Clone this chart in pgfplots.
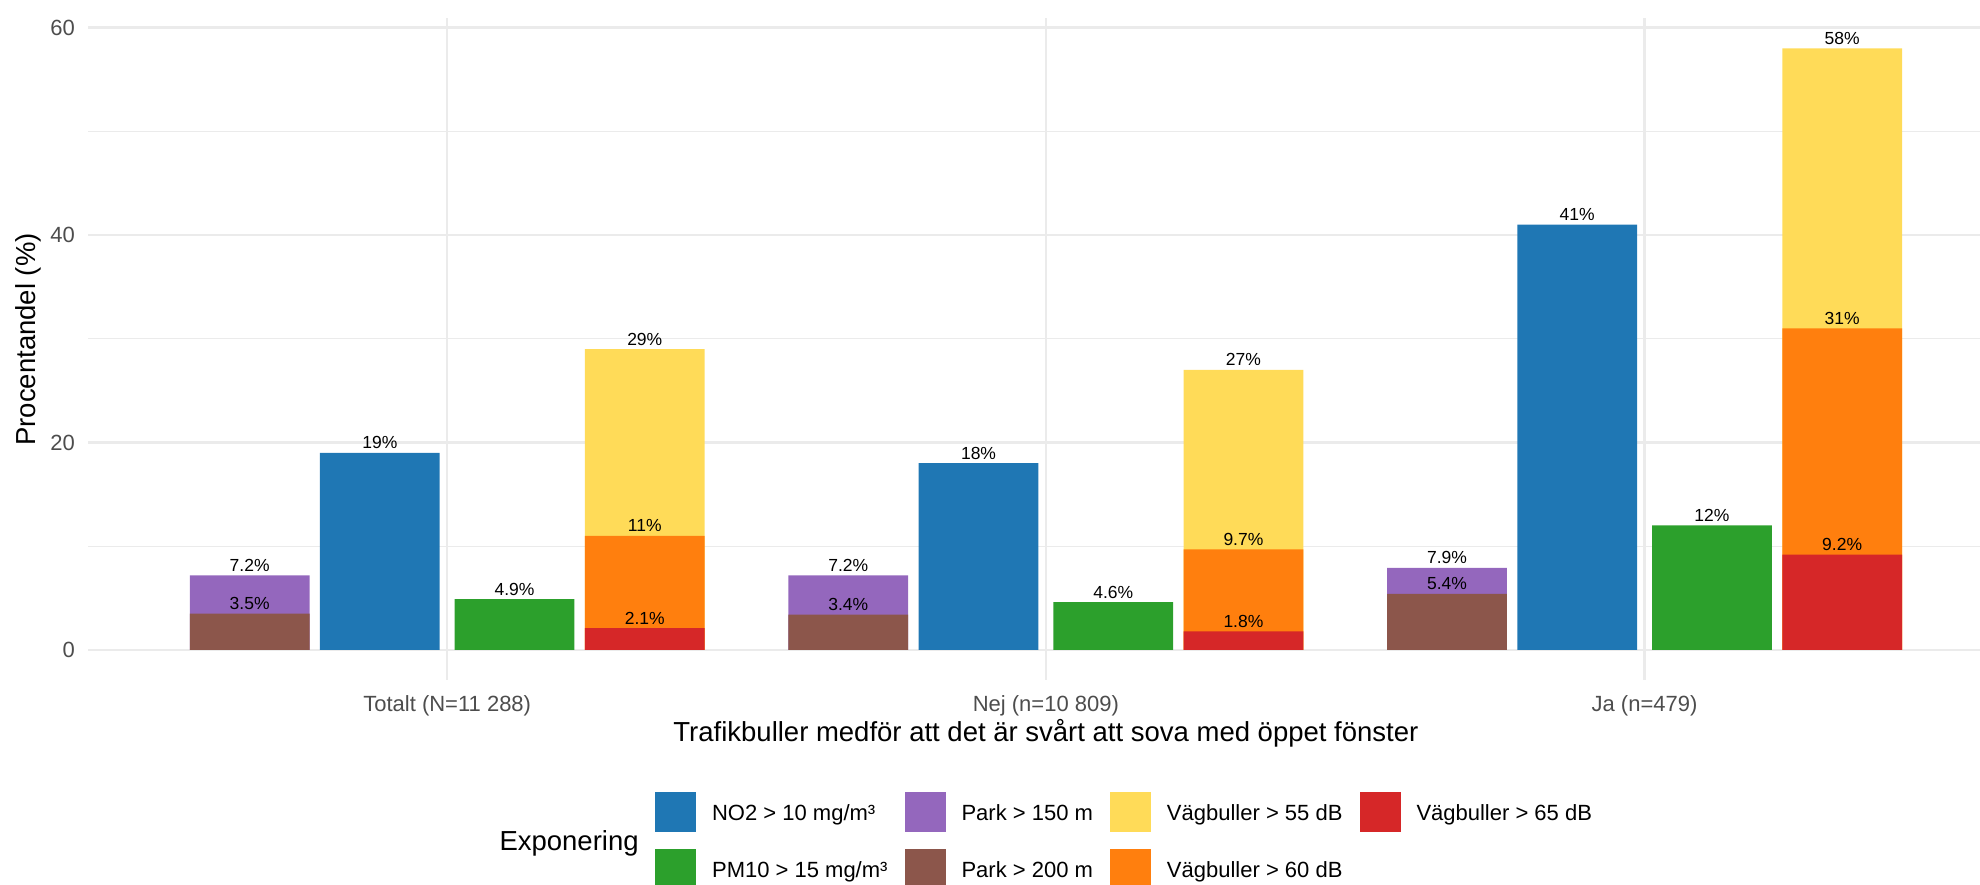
\documentclass[border=0pt]{standalone}
\usepackage{fontspec}
\setmainfont{Liberation Sans}
\usepackage{pgfplots}
\pgfplotsset{compat=1.18}
\definecolor{cNO}{HTML}{1F77B4}
\definecolor{cPM}{HTML}{2CA02C}
\definecolor{cPa}{HTML}{9467BD}
\definecolor{cPb}{HTML}{8C564B}
\definecolor{cVa}{HTML}{FFDB58}
\definecolor{cVb}{HTML}{FF7F0E}
\definecolor{cVc}{HTML}{D62728}
\definecolor{gridc}{HTML}{EBEBEB}
\definecolor{tickc}{HTML}{4D4D4D}
\begin{document}
\begin{tikzpicture}
\useasboundingbox (0pt,0pt) rectangle (792pt,-353.6pt);
\begin{axis}[
  at={(35.2pt,-272pt)}, anchor=south west,
  scale only axis, width=766.3pt, height=264.7pt,
  xmin=0.4, xmax=3.6, ymin=-2.9, ymax=60.9,
  xtick={1,2,3},
  xticklabels={Totalt (N=11 288), Nej (n=10 809), Ja (n=479)},
  ytick={0,20,40,60}, minor ytick={10,30,50},
  xmajorgrids, ymajorgrids, yminorgrids,
  major grid style={color=gridc, line width=1pt},
  minor grid style={color=gridc, line width=0.5pt},
  axis line style={draw=none},
  tick style={draw=none},
  major tick length=0pt, minor tick length=0pt,
  /pgf/number format/assume math mode=true,
  y tick label style={font=\fontsize{8.8}{10}\selectfont, color=tickc, anchor=east, inner sep=0pt, xshift=-5.1pt},
  x tick label style={font=\fontsize{8.8}{10}\selectfont, color=tickc, anchor=base, inner sep=0pt, yshift=-12.4pt},
  xlabel={Trafikbuller medför att det är svårt att sova med öppet fönster},
  ylabel={Procentandel (\%)},
  every axis x label/.style={at={(axis description cs:0.5,-0.09325)}, anchor=base, font=\fontsize{11}{13}\selectfont, inner sep=0pt},
  every axis y label/.style={at={(axis description cs:-0.02714,0.5146)}, rotate=90, anchor=base, font=\fontsize{11}{13}\selectfont, inner sep=0pt},
  every node near coord/.append style={font=\fontsize{7}{8}\selectfont, anchor=base, inner sep=0pt, yshift=1.6pt, color=black},
  nodes near coords={\pgfmathprintnumber[fixed,precision=1]{\pgfplotspointmeta}\%},
  legend style={at={(0.2960,-0.16926)}, anchor=north west, draw=none, fill=none,
    inner sep=0pt, outer sep=0pt, font=\fontsize{8.8}{10}\selectfont,
    nodes={inner sep=0pt, text depth=0pt}, cells={anchor=base west}, row sep=6.8pt,
    /tikz/every odd column/.append style={column sep=6.4pt},
    /tikz/every even column/.append style={column sep=6.8pt}},
  legend columns=2, transpose legend,
  legend image code/.code={\path[#1, draw=none] (0pt,-4.8pt) rectangle (16.4pt,11.2pt);},
]
% Park > 150 m (behind) and Park > 200 m (front)
\addplot[forget plot, ybar, bar width=0.2, bar shift=0pt, fill=cPa, draw=none] coordinates {(0.67,7.2) (1.67,7.2) (2.67,7.9)};
\addplot[forget plot, ybar, bar width=0.2, bar shift=0pt, fill=cPb, draw=none] coordinates {(0.67,3.5) (1.67,3.4) (2.67,5.4)};
% NO2
\addplot[forget plot, ybar, bar width=0.2, bar shift=0pt, fill=cNO, draw=none] coordinates {(0.8875,19) (1.8875,18) (2.8875,41)};
% PM10
\addplot[forget plot, ybar, bar width=0.2, bar shift=0pt, fill=cPM, draw=none] coordinates {(1.1125,4.9) (2.1125,4.6) (3.1125,12)};
% Vaegbuller 55 / 60 / 65
\addplot[forget plot, ybar, bar width=0.2, bar shift=0pt, fill=cVa, draw=none] coordinates {(1.33,29) (2.33,27) (3.33,58)};
\addplot[forget plot, ybar, bar width=0.2, bar shift=0pt, fill=cVb, draw=none] coordinates {(1.33,11) (2.33,9.7) (3.33,31)};
\addplot[forget plot, ybar, bar width=0.2, bar shift=0pt, fill=cVc, draw=none] coordinates {(1.33,2.1) (2.33,1.8) (3.33,9.2)};
\addlegendimage{fill=cNO}\addlegendentry{NO2 > 10 mg/m³}
\addlegendimage{fill=cPM}\addlegendentry{PM10 > 15 mg/m³}
\addlegendimage{fill=cPa}\addlegendentry{Park > 150 m}
\addlegendimage{fill=cPb}\addlegendentry{Park > 200 m}
\addlegendimage{fill=cVa}\addlegendentry{Vägbuller > 55 dB}
\addlegendimage{fill=cVb}\addlegendentry{Vägbuller > 60 dB}
\addlegendimage{fill=cVc}\addlegendentry{Vägbuller > 65 dB}
\end{axis}
\node[anchor=base west, inner sep=0pt, font=\fontsize{11}{13}\selectfont] at (199.6pt,-340.3pt) {Exponering};
\end{tikzpicture}
\end{document}
